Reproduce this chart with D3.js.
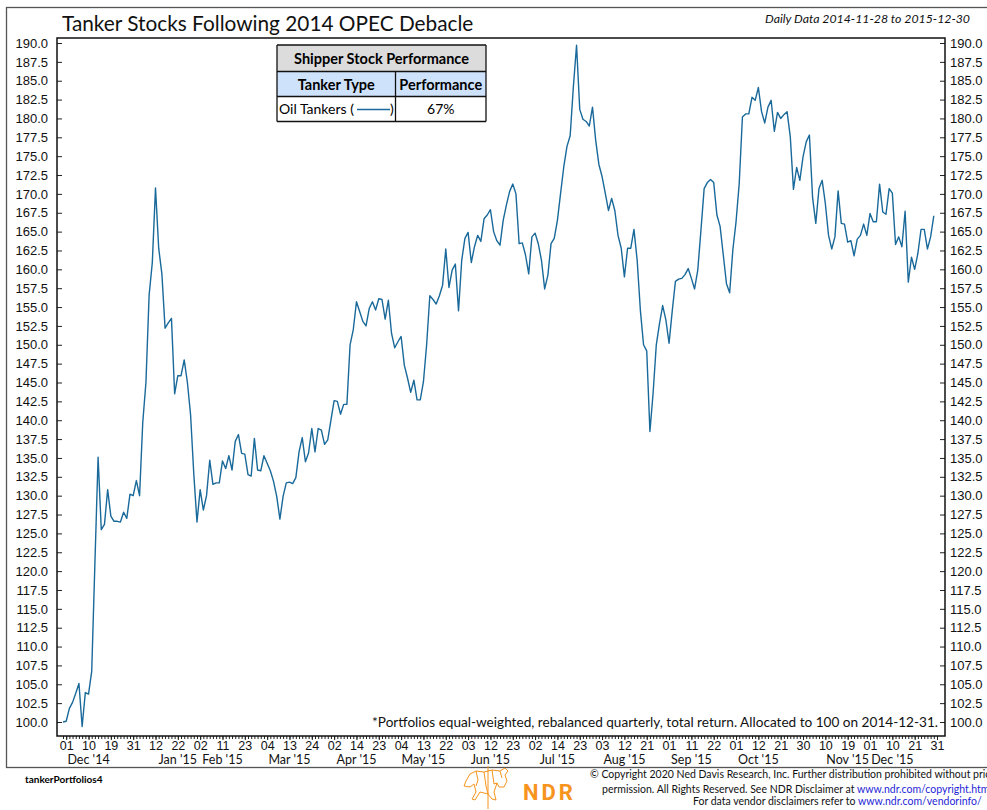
<!DOCTYPE html>
<html>
<head>
<meta charset="utf-8">
<script src="https://cdn.jsdelivr.net/npm/d3@7"></script>
<style>
  body { margin: 0; background: #fff; }
  svg { font-family: Lato, 'Open Sans', sans-serif; }
</style>
</head>
<body>
<div id="chart"></div>
<script>
// trading calendar (NYSE), first and last day on the axis
var startDate = '2014-11-28', endDate = '2015-12-31';
var holidays = ['2014-12-25', '2015-01-01', '2015-01-19', '2015-02-16', '2015-04-03',
                '2015-05-25', '2015-07-03', '2015-09-07', '2015-11-26', '2015-12-25'];

// Oil tankers portfolio, one value per trading day from 2014-11-28 to 2015-12-30
var tankerValues = [
  100.0, 100.1, 101.8, 102.6, 103.8, 105.1,  99.4, 103.9, 103.7, 106.7,
  121.0, 135.1, 125.5, 126.2, 130.8, 127.3, 126.6, 126.6, 126.5, 127.8,
  127.0, 130.2, 130.0, 132.0, 130.0, 139.7, 145.0, 156.6, 160.9, 170.8,
  162.8, 159.4, 152.2, 152.9, 153.5, 143.5, 145.9, 145.9, 148.0, 145.0,
  140.7, 132.9, 126.5, 130.8, 128.1, 130.0, 134.7, 131.5, 131.7, 131.7,
  134.6, 133.6, 135.3, 133.4, 137.2, 138.1, 135.6, 135.5, 132.8, 132.6,
  137.6, 133.4, 133.3, 135.3, 134.3, 133.3, 131.9, 129.9, 126.9, 129.9,
  131.7, 131.8, 131.6, 132.4, 135.8, 137.7, 134.5, 135.7, 138.9, 135.8,
  138.9, 138.7, 136.8, 137.4, 140.0, 142.6, 142.5, 140.8, 142.1, 142.1,
  150.0, 152.0, 155.7, 154.4, 153.1, 152.5, 154.8, 155.7, 154.6, 156.1,
  156.0, 153.4, 155.9, 151.5, 149.6, 150.4, 151.1, 147.3, 145.6, 143.7,
  145.3, 142.7, 142.7, 145.1, 150.0, 156.5, 156.0, 155.4, 156.5, 157.9,
  162.7, 157.6, 159.9, 160.7, 154.5, 161.2, 164.1, 164.9, 160.9, 163.0,
  164.5, 163.7, 166.7, 167.2, 167.9, 165.0, 163.8, 163.2, 166.5, 168.5,
  170.3, 171.3, 170.0, 163.4, 163.5, 161.9, 159.4, 164.3, 164.8, 163.4,
  161.2, 157.4, 159.2, 163.4, 164.1, 166.5, 170.1, 173.6, 176.3, 177.7,
  184.2, 189.7, 181.2, 179.9, 179.6, 179.0, 181.5, 177.1, 173.9, 172.3,
  170.1, 167.8, 169.4, 167.8, 164.5, 162.8, 159.0, 162.8, 162.8, 165.3,
  161.2, 154.6, 150.0, 149.2, 138.5, 143.6, 150.0, 152.8, 155.2, 153.3,
  150.2, 154.5, 158.4, 158.7, 158.8, 159.3, 160.1, 158.8, 157.4, 159.9,
  165.2, 170.7, 171.5, 171.9, 171.5, 167.2, 165.7, 161.9, 158.1, 156.9,
  162.6, 166.3, 171.4, 180.2, 180.6, 180.6, 182.8, 182.4, 184.1, 180.9,
  179.4, 181.5, 182.4, 178.3, 180.8, 180.0, 180.5, 180.9, 177.6, 170.6,
  173.5, 171.8, 174.9, 176.9, 177.8, 169.5, 166.1, 170.7, 171.8, 168.7,
  164.5, 162.7, 164.3, 170.4, 166.1, 166.0, 163.6, 163.8, 161.8, 164.0,
  164.5, 166.0, 164.5, 167.4, 166.3, 166.3, 171.3, 167.6, 167.3, 170.7,
  170.1, 163.3, 164.3, 163.0, 167.7, 158.3, 161.6, 160.0, 162.1, 165.3,
  165.3, 162.7, 164.3, 167.1
];

// labelled dates on the x axis
var tickDates = [
  '2014-12-01', '2014-12-10', '2014-12-19', '2014-12-31', '2015-01-12', '2015-01-22',
  '2015-02-02', '2015-02-11', '2015-02-23', '2015-03-04', '2015-03-13', '2015-03-24',
  '2015-04-02', '2015-04-14', '2015-04-23', '2015-05-04', '2015-05-13', '2015-05-22',
  '2015-06-03', '2015-06-12', '2015-06-23', '2015-07-02', '2015-07-14', '2015-07-23',
  '2015-08-03', '2015-08-12', '2015-08-21', '2015-09-01', '2015-09-11', '2015-09-22',
  '2015-10-01', '2015-10-12', '2015-10-21', '2015-10-30', '2015-11-10', '2015-11-19',
  '2015-12-01', '2015-12-10', '2015-12-21', '2015-12-31'
];

var yTicks = d3.range(100, 190.001, 2.5);

var title = 'Tanker Stocks Following 2014 OPEC Debacle';
var subtitle = 'Daily Data 2014-11-28 to 2015-12-30';
var footnote = '*Portfolios equal-weighted, rebalanced quarterly, total return. Allocated to 100 on 2014-12-31.';
var tableTitle = 'Shipper Stock Performance';
var tableHeads = ['Tanker Type', 'Performance'];
var seriesName = 'Oil Tankers';
var seriesPerf = '67%';

var lineColor = '#19699a';

var W = 987, H = 810;
var plot = {left: 57, right: 945, top: 38, bottom: 736};

var parseDay = d3.timeParse('%Y-%m-%d'),
    fmtDay = d3.timeFormat('%Y-%m-%d'),
    fmtMonth = d3.timeFormat("%b '%y");

// build the trading day list
var days = d3.timeDay.range(parseDay(startDate), d3.timeDay.offset(parseDay(endDate), 1))
  .filter(function(d) { return d.getDay() % 6 != 0 && holidays.indexOf(fmtDay(d)) < 0; })
  .map(fmtDay);

var data = tankerValues.map(function(v, i) { return {date: days[i], value: v}; });

var x = d3.scalePoint().domain(days).range([63, 937]);
var y = d3.scaleLinear().domain([100, 190]).range([722, 43]);

var svg = d3.select('#chart').append('svg')
    .attr('width', W)
    .attr('height', H);

// outer frame
svg.append('rect')
    .attr('x', 6.5).attr('y', 7.5)
    .attr('width', 1000).attr('height', 760)
    .attr('fill', 'none')
    .attr('stroke', '#555')
    .attr('stroke-width', 1.3);

// title
svg.append('text')
    .attr('x', 62).attr('y', 31)
    .attr('font-size', '20.8px')
    .attr('fill', '#111')
    .text(title);

svg.append('text')
    .attr('x', 970).attr('y', 23)
    .attr('text-anchor', 'end')
    .attr('font-size', '12.3px')
    .attr('font-style', 'italic')
    .attr('fill', '#111')
    .text(subtitle);

// y axes
var yLeft = svg.append('g')
    .attr('transform', 'translate(' + plot.left + ',0)')
    .call(d3.axisLeft(y).tickValues(yTicks).tickFormat(d3.format('.1f')).tickSize(-5).tickPadding(9));

var yRight = svg.append('g')
    .attr('transform', 'translate(' + plot.right + ',0)')
    .call(d3.axisRight(y).tickValues(yTicks).tickFormat(d3.format('.1f')).tickSize(-5).tickPadding(5));

// x axes: minor ticks for each trading day, then labelled ticks
var xMinor = svg.append('g')
    .attr('transform', 'translate(0,' + plot.bottom + ')')
    .call(d3.axisBottom(x).tickValues(days).tickFormat('').tickSize(3));

var xMajor = svg.append('g')
    .attr('transform', 'translate(0,' + plot.bottom + ')')
    .call(d3.axisBottom(x).tickValues(tickDates).tickFormat(function(d) { return d.slice(8); }).tickSize(4).tickPadding(1));

[yLeft, yRight, xMinor, xMajor].forEach(function(g) {
  g.select('.domain').remove();
  g.selectAll('text').attr('font-size', '13px').attr('fill', '#111').attr('font-family', null);
  g.selectAll('line').attr('stroke', '#222');
});
xMajor.selectAll('text').attr('font-size', '12.5px');

// month labels, under the second labelled tick of each month
var byMonth = d3.groups(tickDates, function(d) { return d.slice(0, 7); });
svg.append('g').selectAll('text')
    .data(byMonth)
    .enter().append('text')
    .attr('x', function(m) { return x(m[1][Math.min(1, m[1].length - 1)]); })
    .attr('y', 764)
    .attr('text-anchor', 'middle')
    .attr('font-size', '12.5px')
    .attr('fill', '#111')
    .text(function(m) { return fmtMonth(parseDay(m[0] + '-01')); });

// plot frame
svg.append('rect')
    .attr('x', plot.left).attr('y', plot.top)
    .attr('width', plot.right - plot.left).attr('height', plot.bottom - plot.top)
    .attr('fill', 'none')
    .attr('stroke', '#111')
    .attr('stroke-width', 1.5);

// the line
var valueline = d3.line()
    .x(function(d) { return x(d.date); })
    .y(function(d) { return y(d.value); });

svg.append('path')
    .datum(data)
    .attr('fill', 'none')
    .attr('stroke', lineColor)
    .attr('stroke-width', 1.4)
    .attr('stroke-linejoin', 'round')
    .attr('d', valueline);

// footnote
svg.append('text')
    .attr('x', 938).attr('y', 727)
    .attr('text-anchor', 'end')
    .attr('font-size', '13.6px')
    .attr('fill', '#111')
    .text(footnote);

// performance table
var tb = {x: 277, mid: 395.5, right: 486, rows: [45, 71.5, 96.5, 121.5]};
var table = svg.append('g');
table.append('rect')
    .attr('x', tb.x).attr('y', tb.rows[0]).attr('width', tb.right - tb.x).attr('height', tb.rows[1] - tb.rows[0])
    .attr('fill', '#dcdcdc');
table.append('rect')
    .attr('x', tb.x).attr('y', tb.rows[1]).attr('width', tb.right - tb.x).attr('height', tb.rows[2] - tb.rows[1])
    .attr('fill', '#cfe2fb');
table.append('rect')
    .attr('x', tb.x).attr('y', tb.rows[2]).attr('width', tb.right - tb.x).attr('height', tb.rows[3] - tb.rows[2])
    .attr('fill', '#fff');
table.selectAll('line.h')
    .data(tb.rows)
    .enter().append('line')
    .attr('x1', tb.x).attr('x2', tb.right)
    .attr('y1', function(d) { return d; }).attr('y2', function(d) { return d; })
    .attr('stroke', '#111').attr('stroke-width', 1.3);
table.selectAll('line.v')
    .data([[tb.x, tb.rows[0]], [tb.right, tb.rows[0]], [tb.mid, tb.rows[1]]])
    .enter().append('line')
    .attr('x1', function(d) { return d[0]; }).attr('x2', function(d) { return d[0]; })
    .attr('y1', function(d) { return d[1]; }).attr('y2', tb.rows[3])
    .attr('stroke', '#111').attr('stroke-width', 1.3);

table.append('text')
    .attr('x', (tb.x + tb.right) / 2).attr('y', 63.5)
    .attr('text-anchor', 'middle').attr('font-size', '14.5px').attr('font-weight', 'bold')
    .text(tableTitle);
table.selectAll('text.head')
    .data(tableHeads)
    .enter().append('text')
    .attr('x', function(d, i) { return i == 0 ? (tb.x + tb.mid) / 2 : (tb.mid + tb.right) / 2; })
    .attr('y', 89.5)
    .attr('text-anchor', 'middle').attr('font-size', '14.5px').attr('font-weight', 'bold')
    .text(function(d) { return d; });
table.append('text')
    .attr('x', 279).attr('y', 114)
    .attr('font-size', '14px')
    .text(seriesName + ' (');
table.append('line')
    .attr('x1', 357).attr('x2', 390).attr('y1', 109.5).attr('y2', 109.5)
    .attr('stroke', lineColor).attr('stroke-width', 1.6);
table.append('text')
    .attr('x', 390).attr('y', 114)
    .attr('font-size', '14px')
    .text(')');
table.append('text')
    .attr('x', (tb.mid + tb.right) / 2).attr('y', 114)
    .attr('text-anchor', 'middle').attr('font-size', '14px')
    .text(seriesPerf);

// footer
svg.append('text')
    .attr('x', 25).attr('y', 783)
    .attr('font-size', '10px').attr('font-weight', 'bold')
    .text('tankerPortfolios4');

var ndrOrange = '#f7941d';
var logo = svg.append('g').attr('fill', 'none').attr('stroke', ndrOrange).attr('stroke-width', 1);
logo.append('path')
    .attr('d', 'M488,766 L488,809 ' +
               'M466,781 L470,774 L476,771 L484,772 L492,770 L500,771 L505,768 L508,771 L505,775 L507,781 L504,787 L499,787 L497,783 ' +
               'M466,781 L464,786 L470,787 L474,784 L476,792 L472,799 L475,800 L480,792 L488,794 L492,799 L496,800 L494,792 L497,783 ' +
               'M476,771 L478,780 L476,786 M484,772 L486,786 L488,794 M492,770 L494,784 L497,783 M500,771 L502,778');
svg.append('text')
    .attr('x', 523).attr('y', 800)
    .attr('font-size', '22px').attr('font-weight', 'bold')
    .attr('font-family', 'Roboto, sans-serif')
    .attr('letter-spacing', '3px')
    .attr('fill', ndrOrange)
    .text('NDR');

var copy = svg.append('g').attr('font-size', '10.5px').attr('fill', '#111');
copy.append('text').attr('x', 590).attr('y', 778)
    .text('\u00a9 Copyright 2020 Ned Davis Research, Inc. Further distribution prohibited without prior');
var l2 = copy.append('text').attr('x', 602).attr('y', 793);
l2.append('tspan').text('permission. All Rights Reserved. See NDR Disclaimer at ');
l2.append('tspan').attr('fill', '#1f1fd6').text('www.ndr.com/copyright.html');
var l3 = copy.append('text').attr('x', 693).attr('y', 805);
l3.append('tspan').text('For data vendor disclaimers refer to ');
l3.append('tspan').attr('fill', '#1f1fd6').text('www.ndr.com/vendorinfo/');
</script>
</body>
</html>
